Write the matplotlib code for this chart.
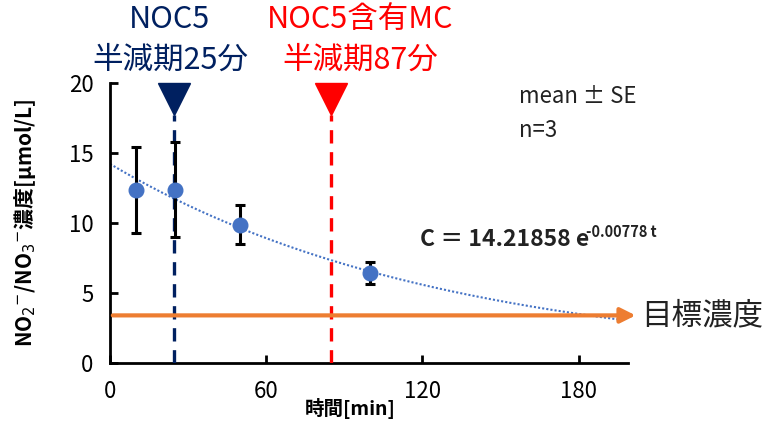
import numpy as np
import matplotlib
matplotlib.use("Agg")
import matplotlib.pyplot as plt

plt.rcParams['font.family'] = ['Noto Sans CJK JP', 'DejaVu Sans']

# measured data (mean +- SE, n=3)
t_min = [10, 25, 50, 100]
conc = [12.36, 12.37, 9.86, 6.41]
se = [3.04, 3.39, 1.39, 0.80]

# exponential fit shown on the chart
fit_a = 14.21858
fit_k = 0.00778

# half-life markers (line position as drawn in the figure)
half_x = [24.6, 85]
half_label_x = [23, 96]
half_line1 = ["NOC5", "NOC5含有MC"]
half_line2 = ["半減期25分", "半減期87分"]
half_colors = ["#002060", "#FF0000"]

target = 3.4
xticks = [0, 60, 120, 180]
yticks = [0, 5, 10, 15, 20]

fig = plt.figure(figsize=(7.7, 4.28), dpi=100)
ax = fig.add_axes([0.1429, 0.1519, 0.6727, 0.6542])

# trend line
tt = np.linspace(0, 196, 200)
ax.plot(tt, fit_a * np.exp(-fit_k * tt), ls=(0, (1, 1)), color="#4472C4", lw=1.5, zorder=2)

for x, lx, l1, l2, c in zip(half_x, half_label_x, half_line1, half_line2, half_colors):
    ax.plot([x, x], [0, 17.7], ls=(0, (4, 2.6)), color=c, lw=2.4, zorder=3)
    ax.plot([x], [18.86], marker="v", ms=23.5, color=c, clip_on=False, zorder=4)
    ax.text(lx, 24.55, l1, color=c, ha="center", va="center", fontsize=22)
    ax.text(lx, 21.6, l2, color=c, ha="center", va="center", fontsize=22)

ax.errorbar(t_min, conc, yerr=se, fmt="o", color="#4472C4", ms=10.5,
            ecolor="black", elinewidth=2.2, capsize=3.5, capthick=2.2, zorder=5)

# target concentration arrow
ax.annotate("", xy=(203, target), xytext=(0, target), annotation_clip=False,
            arrowprops=dict(arrowstyle="-|>,head_length=0.9,head_width=0.45",
                            color="#ED7D31", lw=3), zorder=6)
ax.text(204, target, "目標濃度", fontsize=22, va="center", ha="left", color="#222222")

ax.text(157, 19.0, "mean ± SE", fontsize=16, va="center", ha="left", color="#222222")
ax.text(157, 16.6, "n=3", fontsize=16, va="center", ha="left", color="#222222")

ax.text(119, 8.85, "C ＝ 14.21858 e", fontsize=16.5, fontweight="bold",
        va="center", ha="left", color="#222222")
ax.text(183, 9.35, "-0.00778 t", fontsize=10.5, fontweight="bold",
        va="center", ha="left", color="#222222")

ax.set_xlim(0, 199)
ax.set_ylim(0, 20)
ax.set_xticks(xticks)
ax.set_yticks(yticks)
for s in ["top", "right"]:
    ax.spines[s].set_visible(False)
for s in ["left", "bottom"]:
    ax.spines[s].set_linewidth(2)
ax.tick_params(direction="in", length=6, width=2, labelsize=16, colors="black")
ax.tick_params(axis="y", pad=12)
ax.tick_params(axis="x", pad=12)

ax.set_xlabel("時間[min]", fontsize=14, fontweight="bold")
ax.xaxis.set_label_coords(0.463, -0.125)
ax.set_ylabel("NO$_2$$^{-}$/NO$_3$$^{-}$濃度[μmol/L]", fontsize=15, fontweight="bold")
ax.yaxis.set_label_coords(-0.14, 0.5)

fig.savefig("out.png", dpi=100)
